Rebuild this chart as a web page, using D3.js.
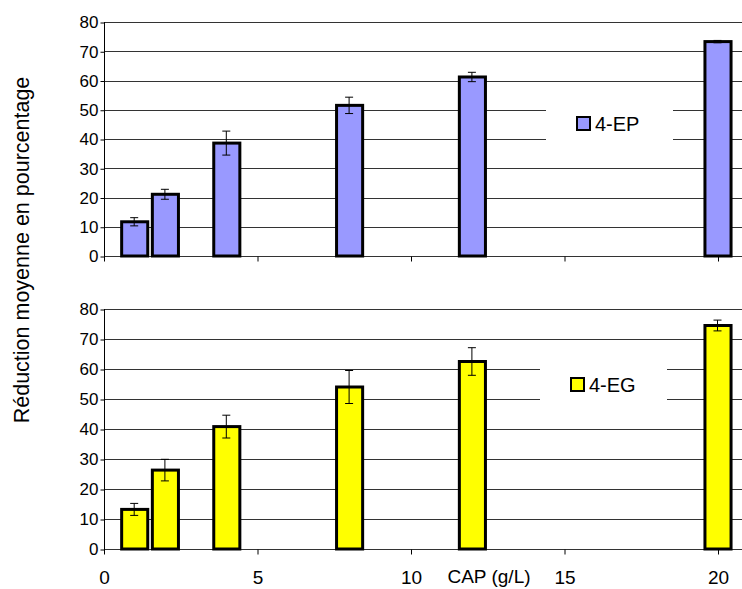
<!DOCTYPE html>
<html><head><meta charset="utf-8">
<script src="https://cdn.jsdelivr.net/npm/d3@7"></script>
<style>body{margin:0;background:#fff}svg{display:block}text{font-family:"Liberation Sans",Arial,sans-serif;fill:#000}</style>
</head><body>
<svg id="c" width="742" height="589"></svg>
<script>
const concentrations = [1, 2, 4, 8, 12, 20];
const epValues = [11.7, 21.1, 38.6, 51.5, 61.2, 73.3];
const epErrors = [1.4, 1.7, 4.1, 2.8, 1.6, 0.4];
const egValues = [13.2, 26.3, 40.8, 54.0, 62.5, 74.5];
const egErrors = [2.0, 3.6, 3.8, 5.5, 4.6, 1.8];
const yTicks = [0, 10, 20, 30, 40, 50, 60, 70, 80];
const xTicks = [0, 5, 10, 15, 20];
const seriesNames = ["4-EP", "4-EG"];
const seriesColors = ["#9999FF", "#FFFF00"];
const xTitle = "CAP (g/L)";
const yTitle = "Réduction moyenne en pourcentage";

const svg = d3.select("#c");
const x = d3.scaleLinear().domain([0, 20]).range([104, 718]);
const barW = x(0.85) - x(0);

const panels = [
  {name: seriesNames[0], color: seriesColors[0], vals: epValues, errs: epErrors, top: 22, bottom: 256, legend: {x: 546, y: 94, w: 127, h: 60}, showLabels: false},
  {name: seriesNames[1], color: seriesColors[1], vals: egValues, errs: egErrors, top: 309, bottom: 549, legend: {x: 540, y: 354, w: 127, h: 62}, showLabels: true}
];

panels.forEach(p => {
  const y = d3.scaleLinear().domain([0, 80]).range([p.bottom, p.top]);
  const g = svg.append("g");
  g.selectAll("line.grid").data(yTicks).join("line")
    .attr("x1", x(0)).attr("x2", 742)
    .attr("y1", d => Math.round(y(d)) + 0.5).attr("y2", d => Math.round(y(d)) + 0.5)
    .attr("stroke", "#333").attr("stroke-width", 1);
  g.append("rect").attr("x", p.legend.x).attr("y", p.legend.y)
    .attr("width", p.legend.w).attr("height", p.legend.h).attr("fill", "#fff");
  const ya = d3.axisLeft(y).tickValues(yTicks).tickSize(4).tickFormat(d3.format("d"));
  const yg = g.append("g").attr("transform", `translate(${x(0) + 0.5},0)`).call(ya);
  yg.select(".domain").remove();
  yg.selectAll(".tick line").attr("stroke", "#000").attr("transform", "translate(0,0.5)");
  yg.selectAll(".tick text").attr("font-size", 17).attr("x", -6).attr("dy", "0.35em")
    .style("font-family", '"Liberation Sans",Arial,sans-serif');
  g.append("line").attr("x1", x(0) + 0.5).attr("x2", x(0) + 0.5)
    .attr("y1", p.top).attr("y2", p.bottom + 5).attr("stroke", "#000");
  const xa = d3.axisBottom(x).tickValues(xTicks).tickSize(5).tickFormat(p.showLabels ? d3.format("d") : "");
  const xg = g.append("g").attr("transform", `translate(0,${Math.round(p.bottom) + 0.5})`).call(xa);
  xg.select(".domain").remove();
  xg.selectAll(".tick line").attr("stroke", "#000");
  xg.selectAll(".tick text").attr("font-size", 19).attr("dy", 0).attr("y", 34)
    .style("font-family", '"Liberation Sans",Arial,sans-serif');
  g.selectAll("rect.bar").data(concentrations).join("rect")
    .attr("x", d => x(d) - barW / 2)
    .attr("width", barW)
    .attr("y", (d, i) => y(p.vals[i]))
    .attr("height", (d, i) => y(0) - y(p.vals[i]))
    .attr("fill", p.color).attr("stroke", "#000").attr("stroke-width", 3);
  const eb = g.selectAll("g.err").data(concentrations).join("g");
  eb.append("line").attr("x1", d => x(d) - 0.5).attr("x2", d => x(d) - 0.5)
    .attr("y1", (d, i) => y(p.vals[i] + p.errs[i])).attr("y2", (d, i) => y(p.vals[i] - p.errs[i]))
    .attr("stroke", "#000");
  [1, -1].forEach(s => {
    eb.append("line").attr("x1", d => x(d) - 4.5).attr("x2", d => x(d) + 3.5)
      .attr("y1", (d, i) => y(p.vals[i] + s * p.errs[i])).attr("y2", (d, i) => y(p.vals[i] + s * p.errs[i]))
      .attr("stroke", "#000");
  });
  const lx = p.legend.x + 31, ly = p.legend.y + p.legend.h / 2 - 7;
  g.append("rect").attr("x", lx).attr("y", ly).attr("width", 13).attr("height", 13)
    .attr("fill", p.color).attr("stroke", "#000").attr("stroke-width", 2);
  g.append("text").attr("x", lx + 18).attr("y", ly + 14).attr("font-size", 20).text(p.name);
});

svg.append("text").attr("x", 489).attr("y", 583).attr("text-anchor", "middle")
  .attr("font-size", 19).text(xTitle);
svg.append("text").attr("transform", "translate(29,250) rotate(-90)").attr("text-anchor", "middle")
  .attr("font-size", 21.5).text(yTitle);
</script>
</body></html>
